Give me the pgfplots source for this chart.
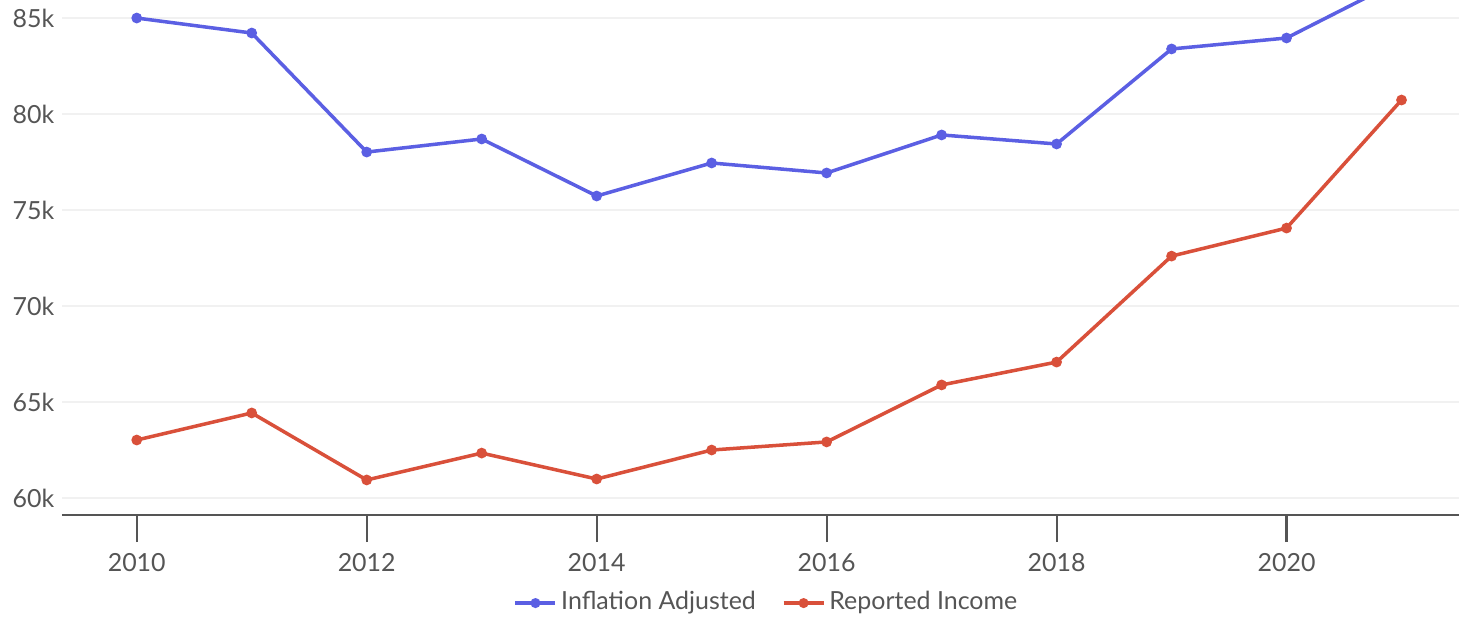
\documentclass[border=0pt]{standalone}
\usepackage{pgfplots}
\pgfplotsset{compat=1.18}
\usepackage{fontspec}
\setmainfont{Lato}
\definecolor{blueL}{HTML}{5B5FE3}
\definecolor{redL}{HTML}{D9503A}
\definecolor{txt}{HTML}{555555}
\definecolor{grid}{HTML}{F1F1F1}
\begin{document}
\begin{tikzpicture}
\path[use as bounding box] (0,0) rectangle (14.59cm,6.18cm);
\begin{axis}[
  at={(0.62cm,1.03cm)}, anchor=south west,
  scale only axis, width=13.97cm, height=5.15cm,
  xmin=2009.35, xmax=2021.5,
  ymin=59.115, ymax=85.94,
  clip=true,
  axis x line*=bottom, axis y line*=left,
  x axis line style={draw=txt, line width=0.65pt, -},
  y axis line style={draw=none},
  xtick={2010,2012,...,2020},
  xticklabel style={/pgf/number format/1000 sep={}, anchor=center, yshift=-2.1mm, text=txt, font=\fontsize{7.1}{9}\selectfont},
  /pgf/number format/assume math mode=true,
  x tick style={draw=txt, line width=0.6pt},
  y tick style={draw=none},
  tick align=outside,
  xtick pos=bottom,
  major tick length=2.7mm,
  ytick={60,65,...,85},
  yticklabel={\pgfmathprintnumber{\tick}k},
  yticklabel style={anchor=east, xshift=2.0mm, inner sep=0pt, text=txt, font=\fontsize{7.1}{9}\selectfont},
  ymajorgrids, grid style={draw=grid, line width=0.6pt},
  legend columns=2,
  legend style={at={(0.505,-0.171)}, anchor=center, draw=none, fill=none, font=\fontsize{7.1}{9}\selectfont, text=txt, inner sep=0pt, nodes={inner sep=0.4mm}, /tikz/every even column/.append style={column sep=2.2mm}},
  legend image code/.code={\draw[#1, mark=none, line width=1pt] (0cm,0cm) -- (0.4cm,0cm); \fill[#1] (0.2cm,0cm) circle (0.9pt);},
]
\addplot[blueL, line width=1pt, mark=*, mark size=1pt] coordinates {
(2010,85.0) (2011,84.22) (2012,78.02) (2013,78.7) (2014,75.73) (2015,77.45)
(2016,76.93) (2017,78.91) (2018,78.44) (2019,83.39) (2020,83.96) (2021,87.0)};
\addlegendentry{Inflation Adjusted}
\addplot[redL, line width=1pt, mark=*, mark size=1pt] coordinates {
(2010,63.02) (2011,64.43) (2012,60.94) (2013,62.34) (2014,60.99) (2015,62.5)
(2016,62.92) (2017,65.89) (2018,67.08) (2019,72.6) (2020,74.06) (2021,80.73)};
\addlegendentry{Reported Income}
\end{axis}
\end{tikzpicture}
\end{document}
